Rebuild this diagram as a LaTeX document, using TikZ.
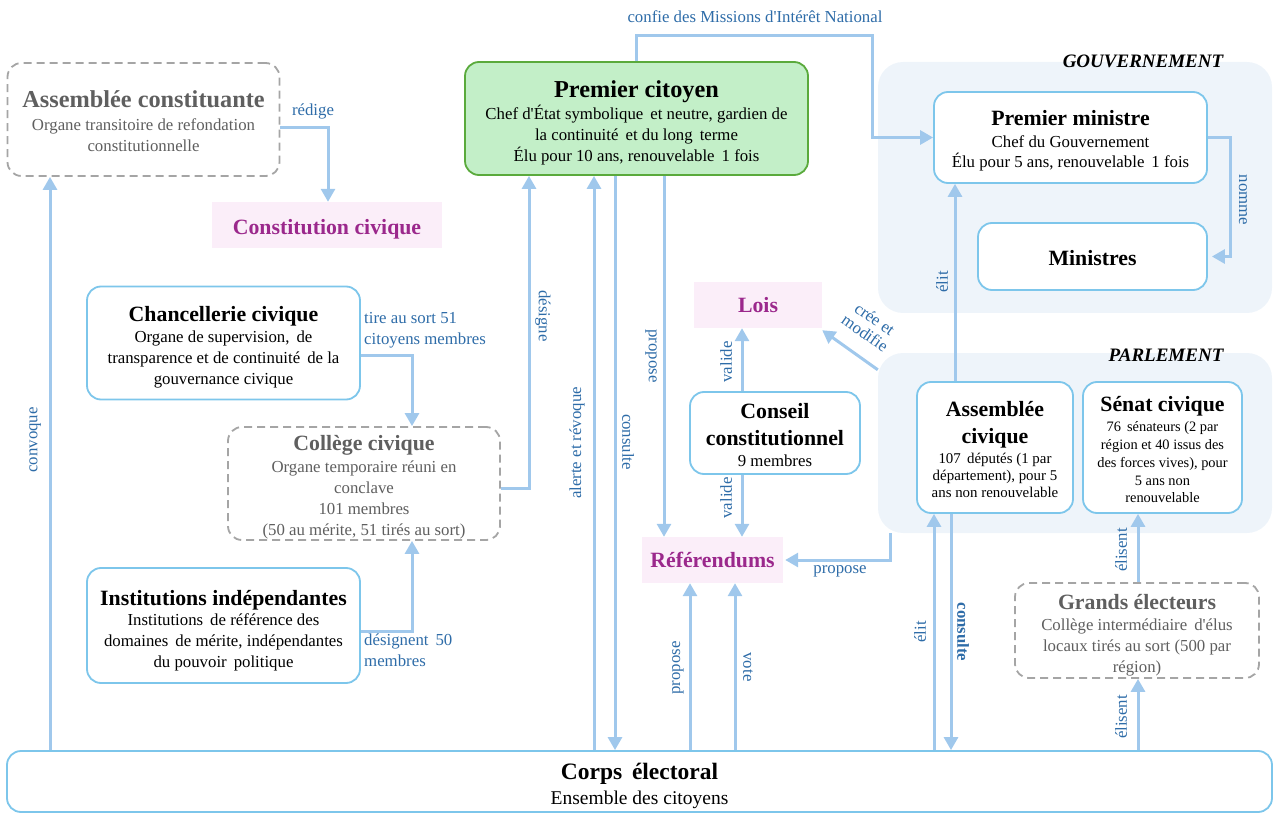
\documentclass[tikz,border=0pt]{standalone}
\usepackage{fontspec}
\setmainfont{Liberation Serif}
\usetikzlibrary{arrows.meta}
\definecolor{arrblue}{RGB}{160,200,236}
\definecolor{labblue}{RGB}{46,108,168}
\definecolor{boxblue}{RGB}{125,198,235}
\definecolor{grpfill}{RGB}{238,244,250}
\definecolor{pinkfill}{RGB}{251,238,249}
\definecolor{purp}{RGB}{155,40,140}
\definecolor{greenfill}{RGB}{195,239,200}
\definecolor{greenline}{RGB}{90,170,60}
\definecolor{dgray}{RGB}{165,165,165}
\definecolor{tgray}{RGB}{95,95,95}
\tikzset{
  box/.style={draw=boxblue, line width=1.8pt, rounded corners=14pt, fill=white, align=center, inner sep=0pt, font=\fontsize{16.8}{21}\selectfont},
  dbox/.style={draw=dgray, dash pattern=on 8pt off 5pt, line width=1.8pt, rounded corners=14pt, fill=white, align=center, inner sep=0pt, text=tgray, font=\fontsize{16.8}{21}\selectfont},
  pinkbox/.style={fill=pinkfill, text=purp, inner sep=0pt, font=\bfseries\fontsize{21.8}{23}\selectfont},
  grp/.style={fill=grpfill, rounded corners=25pt, inner sep=0pt},
  arr/.style={draw=arrblue, line width=3pt, -{Triangle[length=13pt,width=14pt]}},
  lab/.style={text=labblue, inner sep=0pt, font=\fontsize{16.8}{21}\selectfont},
  grplab/.style={inner sep=0pt, font=\bfseries\itshape\fontsize{19}{21}\selectfont}
}
\newcommand{\ttlA}[1]{{\bfseries\fontsize{21.8}{23}\selectfont #1}}
\newcommand{\ttlB}[1]{{\bfseries\fontsize{24.3}{26}\selectfont #1}}
\newcommand{\pd}[1]{\rule{0pt}{#1}}
\newcommand{\sq}{\XeTeXglyph\XeTeXcharglyph"27\relax}
\begin{document}
\begin{tikzpicture}[x=1pt,y=-1pt]
\useasboundingbox (0,0) rectangle (1278,813);

% groups
\node[grp, minimum width=394, minimum height=251] (gouv) at (1075,187.5) {};
\node[grp, minimum width=394, minimum height=180] (parl) at (1075,443) {};
\node[grplab] (gouvlab) at (1143,61) {GOUVERNEMENT};
\node[grplab] (parllab) at (1166,355) {PARLEMENT};

% boxes
\node[dbox, minimum width=272, minimum height=113] (asscon) at (143.5,119.5)
  {\pd{21pt}\ttlB{Assemblée constituante}\\[2pt]Organe transitoire de refondation\\constitutionnelle};
\node[pinkbox, minimum width=230, minimum height=46] (constit) at (327,225) {\pd{23pt}Constitution civique};
\node[box, draw=greenline, fill=greenfill, minimum width=343, minimum height=113, text=black] (pc) at (636.5,118.5)
  {\pd{25pt}\ttlB{Premier citoyen}\\[1pt]Chef d\sq État symbolique\, et neutre, gardien de\\la continuité\, et du long\, terme\\Élu pour 10 ans, renouvelable\, 1 fois};
\node[box, minimum width=273, minimum height=91] (pm) at (1070.5,137.5)
  {\pd{22pt}\ttlA{Premier ministre}\\[1pt]{\fontsize{16.8}{20}\selectfont Chef du Gouvernement}\\[-1pt]Élu pour 5 ans, renouvelable\, 1 fois};
\node[box, minimum width=229, minimum height=67, font=\bfseries\fontsize{21.8}{23}\selectfont] (mins) at (1092.5,256.5) {\pd{19pt}Ministres};
\node[box, minimum width=156, minimum height=131, font=\fontsize{14.9}{17}\selectfont] (ac) at (995,447.5)
  {\pd{20pt}\ttlA{Assemblée}\\[10pt]\ttlA{civique}\\[3pt]107\, députés (1 par\\département), pour 5\\ans non renouvelable};
\node[box, minimum width=159, minimum height=131, font=\fontsize{14.4}{17.8}\selectfont] (sen) at (1162.5,447.5)
  {\pd{20pt}\ttlA{Sénat civique}\\[2pt]76\, sénateurs (2 par\\région et 40 issus des\\des forces vives), pour\\5 ans non\\renouvelable};
\node[pinkbox, minimum width=128, minimum height=46] (lois) at (758,305) {Lois};
\node[box, minimum width=170, minimum height=82] (cc) at (775,433)
  {\pd{19pt}\ttlA{Conseil}\\[6pt]\ttlA{constitutionnel}\\[0pt]9 membres};
\node[pinkbox, minimum width=141, minimum height=46] (ref) at (712.5,560) {Référendums};
\node[box, minimum width=273, minimum height=113] (chanc) at (223.5,343)
  {\pd{23pt}\ttlA{Chancellerie civique}\\[0pt]Organe de supervision,\, de\\transparence et de continuité\, de la\\gouvernance civique};
\node[dbox, minimum width=272, minimum height=113] (college) at (364,483.5)
  {\pd{23pt}\ttlA{Collège civique}\\[1pt]Organe temporaire réuni en\\conclave\\101 membres\\(50 au mérite, 51 tirés au sort)};
\node[box, minimum width=273, minimum height=115] (inst) at (223.5,625.5)
  {\pd{25pt}\ttlA{Institutions indépendantes}\\[-1pt]Institutions\, de référence des\\domaines\, de mérite, indépendantes\\du pouvoir\, politique};
\node[dbox, minimum width=244, minimum height=95] (ge) at (1137,630.5)
  {\pd{25pt}\ttlA{Grands électeurs}\\[0pt]Collège intermédiaire\, d\sq élus\\locaux tirés au sort (500 par\\région)};
\node[box, minimum width=1265, minimum height=61] (corps) at (639.5,781.5)
  {\pd{26pt}{\bfseries\fontsize{23.5}{25}\selectfont Corps\, électoral}\\[4pt]{\fontsize{19.5}{21}\selectfont Ensemble des citoyens}};

% column coordinates
\coordinate (xconv) at (50,0);
\coordinate (xaler) at (594,0);
\coordinate (xcons) at (615,0);
\coordinate (xprop) at (664,0);
\coordinate (xval) at (742,0);
\coordinate (xpro2) at (690,0);
\coordinate (xvote) at (735,0);
\coordinate (xelit) at (934,0);
\coordinate (xcon2) at (951,0);
\coordinate (xelu) at (955,0);
\coordinate (xelis) at (1138,0);
\coordinate (xdes) at (529,0);
\coordinate (xcol) at (412,0);
\coordinate (xred) at (328,0);
\coordinate (xpp) at (890,0);
\coordinate (xnom) at (1230,0);
\coordinate (cf1) at (872,36);

% arrows
\draw[arr] ([yshift=-8pt]asscon.east) -| (xred |- constit.north);
\draw[arr] (pc.north) |- (cf1) |- (pm.west);
\draw[arr] (pm.east) -| (xnom |- mins.east) -- ([xshift=4pt]mins.east);
\draw[arr] (ac.north -| xelu) -- (pm.south -| xelu);
\draw[arr] ([yshift=-17pt]parl.north west) -- ([yshift=-2pt]lois.south east);
\draw[arr] (cc.north -| xval) -- (lois.south -| xval);
\draw[arr] (cc.south -| xval) -- (ref.north -| xval);
\draw[arr] (parl.south -| xpp) |- ([xshift=2pt]ref.east);
\draw[arr] ([yshift=-12pt]chanc.east) -| (xcol |- college.north);
\draw[arr] ([yshift=-6pt]inst.east) -| (xcol |- college.south);
\draw[arr] ([yshift=-5pt]college.east) -| (xdes |- pc.south);
\draw[arr] (corps.north -| xconv) -- (asscon.south -| xconv);
\draw[arr] (corps.north -| xaler) -- (pc.south -| xaler);
\draw[arr] (pc.south -| xcons) -- (corps.north -| xcons);
\draw[arr] (pc.south -| xprop) -- (ref.north -| xprop);
\draw[arr] (corps.north -| xpro2) -- (ref.south -| xpro2);
\draw[arr] (corps.north -| xvote) -- (ref.south -| xvote);
\draw[arr] (corps.north -| xelit) -- (ac.south -| xelit);
\draw[arr] (ac.south -| xcon2) -- (corps.north -| xcon2);
\draw[arr] (corps.north -| xelis) -- (ge.south -| xelis);
\draw[arr] (ge.north -| xelis) -- (sen.south -| xelis);

% labels
\node[lab] (lred) at (313,111) {rédige};
\node[lab] (lconf) at (755,17) {confie des Missions d\sq Intérêt National};
\node[lab, rotate=-90] (lnom) at (1243,200) {nomme};
\node[lab, rotate=90] (lelu) at (942,282) {élit};
\node[lab, rotate=-35, align=center, font=\fontsize{16.8}{17}\selectfont] (lcree) at (870,326) {crée et\\modifie};
\node[lab, rotate=90] (lval1) at (726,362) {valide};
\node[lab, rotate=90] (lval2) at (726,498) {valide};
\node[lab] (lpp) at (840,571) {propose};
\node[lab, align=left, anchor=west] (ltire) at (364,330) {tire au sort 51\\citoyens membres};
\node[lab, align=left, anchor=west] (ldes50) at (364,650) {désignent\, 50\\membres};
\node[lab, rotate=-90] (ldes) at (543,316) {désigne};
\node[lab, rotate=90] (lconv) at (35,440) {convoque};
\node[lab, rotate=90] (laler) at (577,443) {alerte et révoque};
\node[lab, rotate=-90] (lcons) at (628,442) {consulte};
\node[lab, rotate=-90] (lprop) at (651,356) {propose};
\node[lab, rotate=90] (lpro2) at (678,668) {propose};
\node[lab, rotate=-90] (lvote) at (748,667) {vote};
\node[lab, rotate=90] (lelit) at (920,632) {élit};
\node[lab, rotate=-90, font=\bfseries\fontsize{16.8}{21}\selectfont] (lcon2) at (963,632) {consulte};
\node[lab, rotate=90] (lelis1) at (1121,550) {élisent};
\node[lab, rotate=90] (lelis2) at (1121,717) {élisent};
\end{tikzpicture}
\end{document}
